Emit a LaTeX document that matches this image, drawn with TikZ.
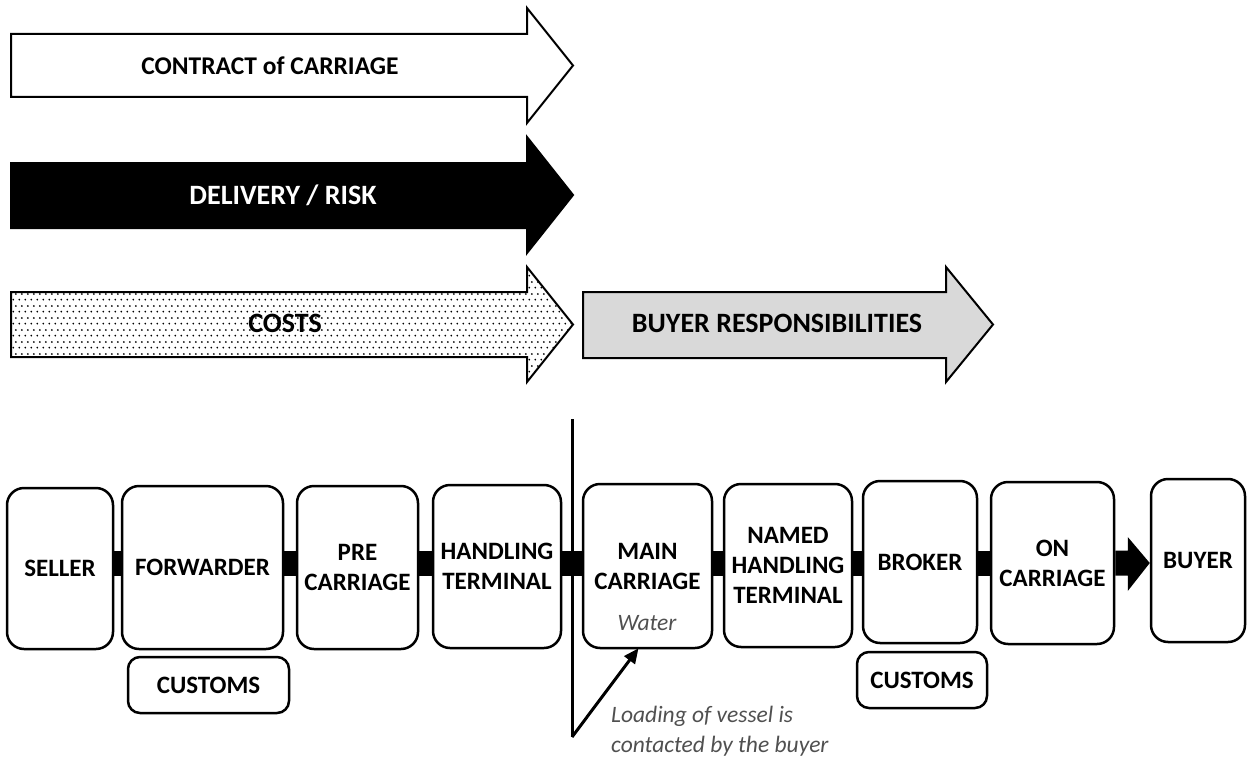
\documentclass[tikz,border=0pt]{standalone}
\usepackage{fontspec}
\setmainfont{Carlito}
\usetikzlibrary{arrows.meta,patterns.meta,calc}
\definecolor{notegray}{HTML}{505050}
\definecolor{buyerfill}{HTML}{D9D9D9}
% staggered dot screen for the costs band
\tikzdeclarepattern{
  name=costdots,
  type=uncolored,
  bounding box={(0pt,0pt) and (6pt,12pt)},
  tile size={(6pt,12pt)},
  code={
    \pgfpathcircle{\pgfpoint{1.5pt}{1.5pt}}{1.05pt}
    \pgfpathcircle{\pgfpoint{4.5pt}{7.5pt}}{1.05pt}
    \pgfusepath{fill}
  }
}
\begin{document}
\begin{tikzpicture}[x=1pt,y=-1pt,
  box/.style={draw,line width=2.5pt,rounded corners=17pt,align=center,
    font=\fontsize{25}{30}\selectfont\bfseries,inner sep=0pt},
  smallbox/.style={box,rounded corners=12pt},
  link/.style={fill=black},
  band/.style={draw,line width=2pt},
  bandlabel/.style={font=\fontsize{28}{32}\selectfont\bfseries},
  note/.style={font=\fontsize{23.5}{30}\selectfont\itshape,text=notegray,inner sep=0pt}]
\useasboundingbox (0,0) rectangle (1247,757);

% responsibility bands
\draw[band,fill=white] (11,34) -- (527,34) -- (527,8) -- (573,65.5) -- (527,123) -- (527,97) -- (11,97) -- cycle;
\node[bandlabel,font=\fontsize{25.5}{30}\selectfont\bfseries] (contract) at (270,65.5) {CONTRACT of CARRIAGE};

\draw[band,fill=black] (11,163) -- (527,163) -- (527,137) -- (573,195) -- (527,253) -- (527,228) -- (11,228) -- cycle;
\node[bandlabel,text=white] (risk) at (283,195) {DELIVERY / RISK};

\draw[band,preaction={fill=white},pattern={costdots},pattern color=black] (11,292) -- (527,292) -- (527,267) -- (573,324.5) -- (527,382) -- (527,357) -- (11,357) -- cycle;
\node[bandlabel] (costs) at (285,323) {COSTS};

\draw[band,fill=buyerfill] (583,292) -- (946,292) -- (946,267) -- (993,324.5) -- (946,382) -- (946,358) -- (583,358) -- cycle;
\node[bandlabel] (buyerresp) at (777,323) {BUYER RESPONSIBILITIES};

% chain of parties
\node[box,minimum width=106pt,minimum height=161pt] (seller) at (60,568.5) {SELLER};
\node[box,minimum width=161pt,minimum height=163pt] (forwarder) at (202.5,567.5) {FORWARDER};
\node[box,minimum width=121pt,minimum height=163pt] (pre) at (357.5,567.5) {PRE\\CARRIAGE};
\node[box,minimum width=128pt,minimum height=163pt] (handling) at (497,566.5) {HANDLING\\TERMINAL};
\node[box,minimum width=129pt,minimum height=164pt] (main) at (647.5,566) {MAIN\\CARRIAGE};
\node[note] (water) at (647,623) {Water};
\node[box,minimum width=128pt,minimum height=163pt] (named) at (788,565.5) {NAMED\\HANDLING\\TERMINAL};
\node[box,minimum width=114pt,minimum height=162pt] (broker) at (920,562) {BROKER};
\node[box,minimum width=123pt,minimum height=162pt] (on) at (1052.5,563) {ON\\CARRIAGE};
\node[box,minimum width=94pt,minimum height=163pt] (buyer) at (1198,560.5) {BUYER};

\node[smallbox,minimum width=161pt,minimum height=56pt] (customsA) at (208.5,685) {CUSTOMS};
\node[smallbox,minimum width=130pt,minimum height=56pt] (customsB) at (922,680) {CUSTOMS};

% links between parties
\coordinate (lt) at (0,550.5);
\coordinate (lb) at (0,575.5);
\foreach \a/\b in {seller/forwarder,forwarder/pre,pre/handling,handling/main,main/named,named/broker,broker/on}
  \fill[link] (\a.east |- lt) rectangle (\b.west |- lb);
\coordinate (tipin) at (buyer.west |- 0,563);
\fill[link] (on.east |- lt) -- ($(tipin)+(-22,-12.5)$) -- ($(tipin)+(-22,-26)$)
  -- (tipin) -- ($(tipin)+(-22,28)$) -- ($(tipin)+(-22,12.5)$)
  -- (on.east |- lb) -- cycle;

% transfer point
\coordinate (vtop) at (572,419);
\coordinate (vbot) at (572,737);
\draw[line width=3pt] (vtop) -- (vbot);
\draw[line width=3pt,-{Triangle[length=15pt,width=13pt]}] (vbot) -- ([xshift=-9pt,yshift=1pt]main.south);
\node[note,anchor=north west,align=left] (loading) at (611,706) {Loading of vessel is\\contacted by the buyer};
\end{tikzpicture}
\end{document}
